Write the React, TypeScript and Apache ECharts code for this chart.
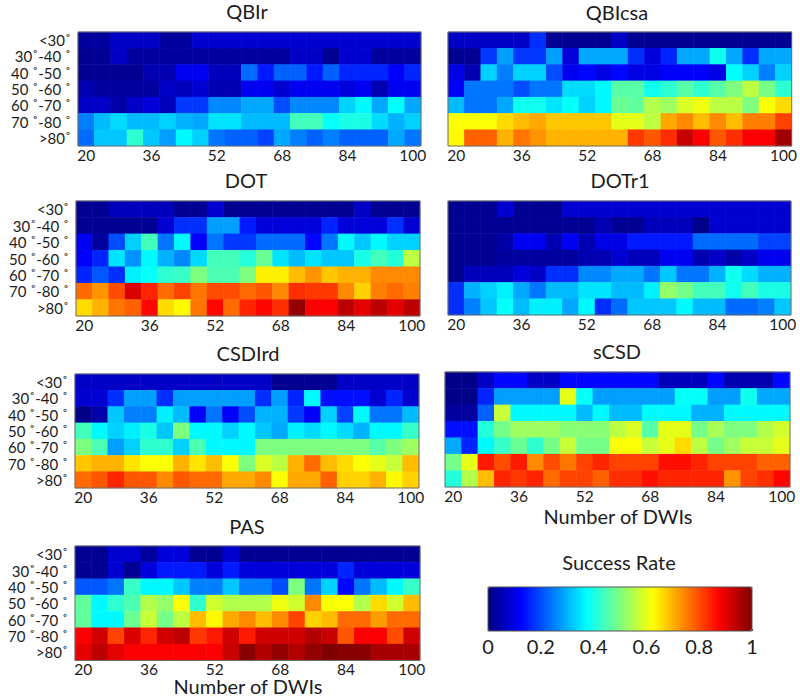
import React, { useEffect, useRef } from "react";
import * as echarts from "echarts";

const dwiCounts = ["20","24","28","32","36","40","44","48","52","56","60","64","68","72","76","80","84","88","92","96","100"];
const angleLabels = ["<30˚","30˚-40 ˚","40 ˚-50 ˚","50 ˚-60 ˚","60 ˚-70 ˚","70 ˚-80 ˚",">80˚"];
const jetColors = ["#00007f","#0000ff","#007fff","#00ffff","#7fff7f","#ffff00","#ff7f00","#ff0000","#7f0000"];
const barTicks = [0, 0.2, 0.4, 0.6, 0.8, 1];

const qbirValues = [
  [.03,.03,.07,.07,.07,.03,.03,.08,.08,.08,.08,.08,.08,.08,.08,.08,.08,.08,.08,.08,.08],
  [.02,.02,.07,.03,.03,.03,.03,.03,.03,.03,.03,.03,.03,.07,.07,.02,.08,.08,.03,.03,.03],
  [.02,.02,.02,.02,.05,.05,.11,.11,.06,.06,.23,.15,.22,.22,.15,.22,.16,.16,.16,.12,.16],
  [.05,.03,.03,.03,.03,.07,.06,.08,.05,.05,.11,.11,.08,.11,.11,.11,.09,.11,.05,.11,.11],
  [.07,.07,.04,.07,.09,.06,.18,.18,.26,.26,.29,.29,.2,.26,.26,.26,.33,.37,.29,.375,.29],
  [.25,.31,.34,.31,.31,.33,.3,.29,.35,.35,.31,.31,.31,.44,.44,.38,.4,.4,.34,.3,.33],
  [.23,.32,.32,.42,.32,.28,.37,.33,.24,.22,.22,.19,.29,.25,.22,.25,.22,.22,.22,.29,.24],
];
const qbicsaValues = [
  [.07,.07,.07,.07,.07,.17,.02,.02,.02,.02,.07,.02,.02,.02,.02,.02,.02,.02,.02,.02,.02],
  [.02,.02,.18,.28,.18,.18,.28,.09,.29,.29,.29,.17,.09,.16,.29,.29,.39,.29,.17,.29,.29],
  [.1,.05,.33,.25,.33,.33,.2,.11,.13,.1,.13,.1,.1,.12,.12,.12,.1,.375,.33,.25,.33],
  [.12,.24,.24,.24,.2,.24,.24,.34,.34,.37,.46,.46,.39,.42,.46,.42,.46,.5,.56,.49,.42],
  [.31,.24,.24,.29,.39,.39,.35,.38,.33,.37,.48,.47,.55,.53,.59,.61,.56,.56,.5,.62,.66],
  [.62,.62,.62,.66,.69,.71,.68,.68,.68,.68,.6,.6,.56,.71,.74,.69,.74,.69,.75,.75,.81],
  [.63,.78,.78,.7,.76,.73,.7,.7,.7,.7,.7,.82,.79,.83,.93,.88,.79,.83,.88,.88,.97],
];
const dotValues = [
  [.02,.02,.06,.06,.06,.06,.02,.02,.08,.02,.02,.02,.02,.02,.02,.02,.02,.07,.02,.02,.02],
  [.02,.02,.02,.02,.02,.08,.17,.17,.28,.28,.15,.09,.09,.09,.09,.16,.09,.09,.09,.17,.08],
  [.11,.03,.2,.33,.44,.24,.37,.12,.24,.18,.18,.23,.23,.23,.13,.24,.37,.32,.37,.33,.33],
  [.12,.16,.35,.27,.37,.3,.26,.34,.44,.44,.41,.48,.35,.31,.35,.32,.32,.4,.44,.41,.56],
  [.16,.21,.17,.36,.38,.42,.43,.5,.45,.45,.5,.64,.64,.69,.73,.68,.7,.7,.74,.74,.74],
  [.77,.73,.8,.91,.84,.77,.81,.76,.8,.8,.77,.79,.74,.83,.82,.82,.74,.67,.75,.77,.75],
  [.66,.7,.76,.78,.87,.66,.63,.76,.87,.77,.84,.87,.83,.98,.88,.88,.94,.9,.94,.9,.94],
];
const dotr1Values = [
  [.02,.02,.02,.08,.02,.02,.02,.08,.08,.08,.08,.08,.08,.08,.08,.08,.08,.08,.08,.08,.08],
  [.02,.02,.02,.02,.02,.02,.02,.02,.02,.05,.02,.02,.06,.06,.06,.01,.08,.08,.08,.08,.08],
  [.02,.02,.02,.04,.11,.11,.05,.11,.05,.1,.1,.15,.15,.15,.15,.23,.23,.23,.23,.19,.19],
  [.02,.02,.02,.03,.03,.03,.03,.03,.05,.05,.08,.06,.06,.11,.11,.05,.07,.04,.07,.11,.11],
  [.02,.06,.06,.06,.09,.07,.17,.17,.26,.26,.29,.29,.24,.32,.24,.24,.3,.39,.34,.3,.3],
  [.17,.3,.33,.36,.29,.24,.31,.31,.35,.35,.31,.31,.36,.52,.49,.44,.44,.39,.44,.4,.4],
  [.17,.25,.32,.38,.31,.36,.36,.29,.37,.17,.23,.32,.32,.32,.37,.31,.31,.23,.23,.25,.32],
];
const csdValues = [
  [.07,.07,.07,.07,.07,.07,.07,.07,.07,.07,.07,.07,.02,.02,.02,.02,.07,.07,.07,.07,.07],
  [.08,.08,.17,.28,.28,.17,.28,.28,.28,.28,.28,.17,.28,.16,.37,.14,.14,.14,.08,.16,.08],
  [.01,.04,.32,.25,.25,.36,.31,.12,.24,.12,.2,.3,.3,.18,.12,.33,.19,.37,.24,.24,.31],
  [.44,.37,.33,.36,.4,.32,.5,.37,.37,.33,.37,.32,.29,.36,.34,.37,.34,.3,.37,.37,.43],
  [.5,.45,.28,.33,.42,.42,.33,.45,.37,.37,.37,.5,.5,.5,.5,.5,.5,.5,.46,.5,.53],
  [.68,.7,.7,.65,.62,.62,.7,.65,.69,.62,.5,.59,.56,.7,.77,.69,.66,.62,.6,.57,.69],
  [.77,.79,.84,.79,.79,.74,.79,.77,.77,.71,.71,.74,.62,.71,.71,.78,.67,.67,.7,.63,.67],
];
const scsdValues = [
  [.01,.01,.07,.13,.13,.07,.07,.13,.13,.13,.13,.13,.13,.06,.06,.06,.13,.05,.05,.05,.13],
  [.01,.01,.16,.28,.28,.28,.28,.6,.38,.28,.28,.28,.28,.28,.38,.38,.28,.28,.39,.29,.29],
  [.03,.03,.22,.57,.37,.37,.37,.37,.31,.37,.31,.31,.37,.37,.37,.3,.3,.37,.37,.37,.37],
  [.14,.14,.41,.49,.53,.53,.53,.51,.51,.51,.56,.59,.46,.6,.6,.49,.54,.5,.5,.55,.58],
  [.29,.16,.37,.43,.48,.42,.49,.57,.49,.49,.62,.62,.57,.6,.66,.56,.49,.53,.57,.57,.6],
  [.49,.6,.85,.8,.85,.74,.8,.76,.81,.84,.81,.81,.81,.86,.86,.84,.81,.81,.81,.78,.78],
  [.41,.55,.69,.84,.82,.84,.77,.81,.81,.78,.83,.83,.86,.84,.84,.84,.84,.73,.81,.83,.87],
];
const pasValues = [
  [.02,.02,.08,.08,.03,.09,.09,.02,.02,.08,.02,.02,.02,.02,.02,.02,.02,.02,.02,.02,.02],
  [.02,.02,.08,.02,.09,.15,.15,.15,.09,.15,.09,.09,.09,.09,.09,.09,.16,.09,.09,.09,.09],
  [.21,.21,.24,.43,.37,.37,.32,.25,.25,.32,.25,.25,.2,.5,.24,.33,.13,.24,.31,.37,.43],
  [.47,.37,.42,.45,.55,.52,.62,.42,.58,.55,.55,.55,.61,.58,.74,.62,.62,.55,.66,.58,.69],
  [.47,.37,.37,.48,.57,.49,.56,.69,.63,.71,.74,.69,.74,.81,.67,.69,.77,.77,.72,.77,.77],
  [.88,.92,.81,.91,.84,.92,.94,.82,.85,.92,.85,.92,.92,.92,.95,.93,.79,.88,.88,.8,.92],
  [.9,.94,.9,.88,.88,.88,.88,.88,.88,.93,.99,.95,.98,.95,.98,1,.99,.99,.96,.96,.96],
];

const FONT = "Lato";
const TEXT = "#1c1c1c";
const X_NAME = "Number of DWIs";

const panels = [
  { name: "QBIr", values: qbirValues, left: 78, top: 32, width: 343, height: 114, showY: true, titleX: 247, titleY: 2 },
  { name: "QBIcsa", values: qbicsaValues, left: 448, top: 32, width: 345, height: 114, showY: false, titleX: 617, titleY: 3 },
  { name: "DOT", values: dotValues, left: 76, top: 201, width: 344, height: 115, showY: true, titleX: 246, titleY: 171 },
  { name: "DOTr1", values: dotr1Values, left: 448, top: 201, width: 343, height: 114, showY: false, titleX: 620, titleY: 171 },
  { name: "CSDIrd", values: csdValues, left: 75, top: 374, width: 344, height: 114, showY: true, titleX: 248, titleY: 344 },
  { name: "sCSD", values: scsdValues, left: 445, top: 372, width: 345, height: 115, showY: false, titleX: 617, titleY: 342 },
  { name: "PAS", values: pasValues, left: 75, top: 546, width: 345, height: 114.5, showY: true, titleX: 247, titleY: 517 },
];

const barBox = { left: 488, top: 587, width: 264, height: 44 };

function buildOption() {
  const grid: any[] = panels.map((p) => ({
    left: p.left, top: p.top, width: p.width, height: p.height,
    show: true, z: 5, backgroundColor: "transparent", borderColor: "#6e6e6e", borderWidth: 1,
  }));
  const xAxis: any[] = panels.map((p, i) => ({
    type: "category", gridIndex: i, data: dwiCounts,
    axisLine: { show: false }, axisTick: { show: false }, splitLine: { show: false },
    axisLabel: { interval: 3, margin: 1, fontFamily: FONT, fontSize: 15.5, lineHeight: 15, color: TEXT },
  }));
  const yAxis: any[] = panels.map((p, i) => ({
    type: "category", gridIndex: i, data: angleLabels, inverse: true,
    axisLine: { show: false }, axisTick: { show: false }, splitLine: { show: false },
    axisLabel: { show: p.showY, margin: 7, fontFamily: FONT, fontSize: 15, lineHeight: 15, color: TEXT, interval: 0 },
  }));
  const series: any[] = panels.map((p, i) => ({
    type: "heatmap", name: p.name, xAxisIndex: i, yAxisIndex: i,
    data: p.values.flatMap((row, y) => row.map((v, x) => [x, y, v])),
    itemStyle: { borderWidth: 0 }, emphasis: { disabled: true }, progressive: 0,
  }));

  grid.push({ ...barBox, show: true, z: 5, backgroundColor: "transparent", borderColor: "#555555", borderWidth: 1 });
  xAxis.push({
    type: "value", gridIndex: panels.length, min: 0, max: 1, interval: 0.2,
    axisLine: { show: false }, splitLine: { show: false },
    axisTick: { show: true, inside: true, length: 2, lineStyle: { color: "#444" } },
    axisLabel: {
      margin: 5, fontFamily: FONT, fontSize: 20, color: TEXT,
      formatter: (v: number) => String(barTicks.find((t) => Math.abs(t - v) < 1e-6) ?? v),
    },
  });
  yAxis.push({ type: "value", gridIndex: panels.length, show: false, min: 0, max: 1 });

  const titleStyle = { fontFamily: FONT, fontSize: 20, lineHeight: 18, fontWeight: "normal", color: TEXT };
  const nameText = (x: number, y: number) => ({
    type: "text", x, y, silent: true,
    style: { text: X_NAME, fontFamily: FONT, fontSize: 20, fill: TEXT, textAlign: "center", textVerticalAlign: "middle" },
  });
  return {
    animation: false,
    backgroundColor: "#ffffff",
    title: [
      ...panels.map((p) => ({
        text: p.name, left: p.titleX, top: p.titleY, textAlign: "center",
        textStyle: titleStyle, padding: 0,
      })),
      { text: "Success Rate", left: 619, top: 553, textAlign: "center", textStyle: titleStyle, padding: 0 },
    ],
    graphic: [nameText(618, 516), nameText(248, 685.5)],
    grid, xAxis, yAxis, series,
    visualMap: {
      type: "continuous", min: 0, max: 1, seriesIndex: panels.map((_, i) => i),
      orient: "horizontal", left: barBox.left, top: barBox.top, padding: 0,
      itemWidth: barBox.height, itemHeight: barBox.width,
      calculable: false, realtime: false, text: null, hoverLink: false, showLabel: false,
      inRange: { color: jetColors },
    },
  };
}

export default function App() {
  const ref = useRef<HTMLDivElement>(null);
  useEffect(() => {
    document.body.style.margin = "0";
    const chart = echarts.init(ref.current!, undefined, { renderer: "svg" });
    chart.setOption(buildOption() as any);
    return () => chart.dispose();
  }, []);
  return <div ref={ref} style={{ width: 800, height: 696 }} />;
}
